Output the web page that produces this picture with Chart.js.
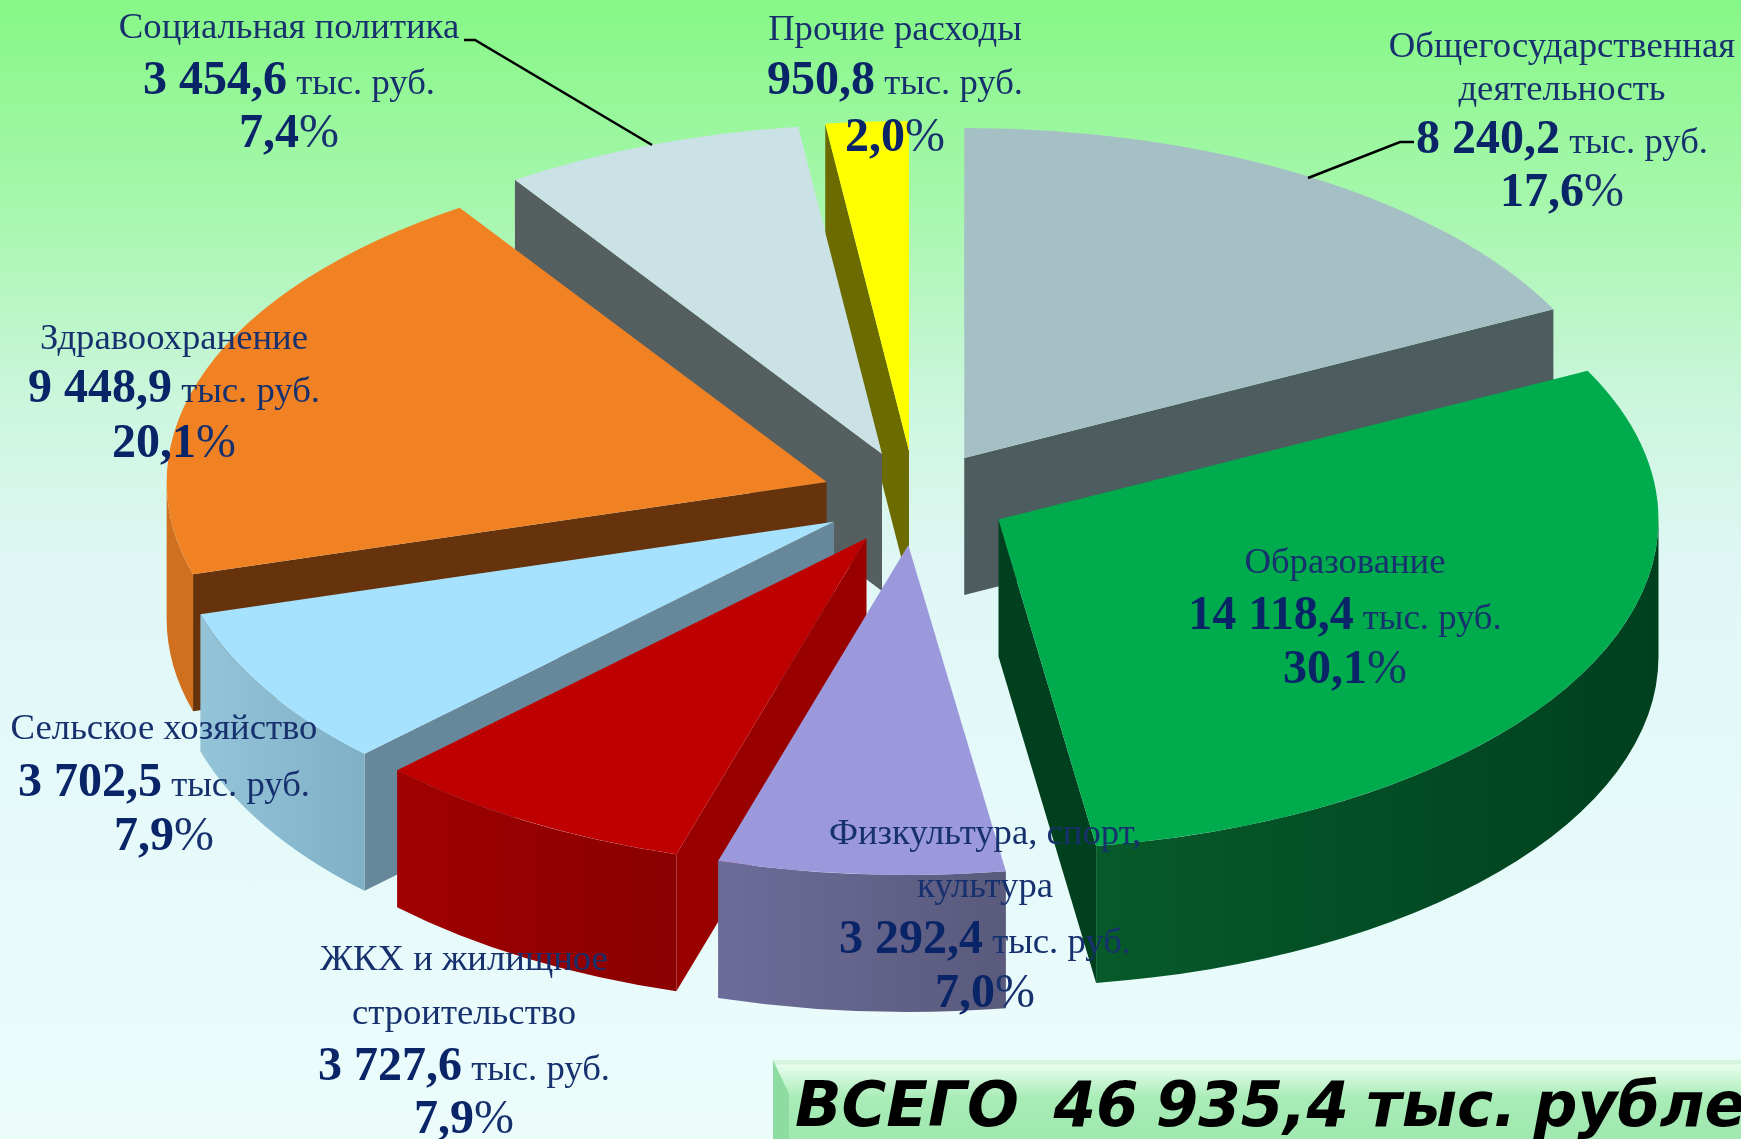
<!DOCTYPE html>
<html lang="ru">
<head>
<meta charset="utf-8">
<title>Расходы бюджета</title>
<script src="https://cdn.jsdelivr.net/npm/chart.js@4"></script>
<style>
    html, body { margin: 0; padding: 0; width: 1741px; height: 1139px; overflow: hidden; }
    body { position: relative; background: linear-gradient(180deg, #86f786 0%, #a6f7ac 18%, #cdf6df 36%, #e0f7f6 50%, #e6fafa 75%, #ebfcfb 100%); }
    #pie { position: absolute; left: 0; top: 0; }
    .line { position: absolute; transform: translate(-50%, -50%); white-space: pre; color: #17306e;
            font-family: "Liberation Serif", serif; font-size: 36.7px; line-height: 1; }
    .line b { font-size: 48px; color: #0a2468; }
    #total { position: absolute; left: 773px; top: 1060px; width: 990px; height: 90px; overflow: hidden;
             background: linear-gradient(180deg, #d6f5df 0, #d6f5df 4px, #e8fdee 5px, #a8ecb6 42%, #9de6ae 100%); }
    #total::before { content: ""; position: absolute; left: 0; top: 0; width: 16px; height: 100%; background: #8fdca2;
             clip-path: polygon(0 0, 100% 34px, 100% 100%, 0 100%); }
    #total span { position: absolute; left: 22px; top: 8px; white-space: pre; color: #000; word-spacing: -4px;
             font: italic bold 62px "DejaVu Sans", sans-serif; transform-origin: 0 0; transform: scaleX(0.985); }
</style>
</head>
<body>
<canvas id="pie" width="1741" height="1139"></canvas>
<div id="total"><span>ВСЕГО  46 935,4 тыс. рублей</span></div>
<script>
// Slices, clockwise from 12 o'clock
const categories = ['Общегосударственная\nдеятельность', 'Образование', 'Физкультура, спорт,\nкультура',
    'ЖКХ и жилищное\nстроительство', 'Сельское хозяйство', 'Здравоохранение', 'Социальная политика', 'Прочие расходы'];
const values = [8240.2, 14118.4, 3292.4, 3727.6, 3702.5, 9448.9, 3454.6, 950.8];
const shares = [17.6, 30.1, 7.0, 7.9, 7.9, 20.1, 7.4, 2.0];

// Colours: top face, radial wall, rim gradient
const topColors = ['#a5c0c4', '#00ab4e', '#9b99db', '#bf0000', '#a6e2fd', '#f08224', '#cae1e5', '#ffff00'];
const wallColors = ['#4d5c5e', '#00401f', '#5e5e86', '#990000', '#66889a', '#66330c', '#555f60', '#6b6b00'];
const rimColors = [['#4d5c5e', '#4d5c5e'], ['#00401f', '#075a2a'], ['#5a5a7c', '#6c6c9a'], ['#8a0000', '#a00000'],
    ['#7fb0c6', '#93c4d8'], ['#d0701f', '#d0701f'], ['#555f60', '#555f60'], ['#6b6b00', '#6b6b00']];

// Layout of the flattened pie
const CENTER_X = 915, CENTER_Y = 498, RADIUS = 660, SQUASH = 0.5, DEPTH = 137, EXPLODE = 94;
const PAINT_ORDER = [0, 7, 6, 5, 4, 3, 2, 1];

// Label anchors: centre x, then centre y of each text line
const labelPos = [
    [1562, [45, 88, 137, 190]],
    [1345, [561, 613, 667]],
    [985, [832, 885, 937, 991]],
    [464, [958, 1012, 1064, 1117]],
    [164, [727, 780, 834]],
    [174, [337, 386, 441]],
    [289, [26, 78, 131]],
    [895, [28, 78, 135]]
];
const leaders = [
    [[1308, 178], [1400, 142], [1414, 142]],
    [[652, 145], [475, 40], [464, 40]]
];

function slicePose(arc) {
    const mid = (arc.startAngle + arc.endAngle) / 2;
    return {
        x: CENTER_X + Math.cos(mid) * EXPLODE,
        y: CENTER_Y + Math.sin(mid) * EXPLODE * SQUASH
    };
}

function drawWall(ctx, pose, angle, color) {
    const ex = pose.x + Math.cos(angle) * RADIUS;
    const ey = pose.y + Math.sin(angle) * RADIUS * SQUASH;
    ctx.fillStyle = color;
    ctx.beginPath();
    ctx.moveTo(pose.x, pose.y);
    ctx.lineTo(ex, ey);
    ctx.lineTo(ex, ey + DEPTH);
    ctx.lineTo(pose.x, pose.y + DEPTH);
    ctx.closePath();
    ctx.fill();
}

function drawRim(ctx, pose, from, to, colors) {
    const x1 = pose.x + Math.cos(from) * RADIUS;
    const x2 = pose.x + Math.cos(to) * RADIUS;
    const grad = ctx.createLinearGradient(Math.min(x1, x2), 0, Math.max(x1, x2), 0);
    grad.addColorStop(0, x1 > x2 ? colors[1] : colors[0]);
    grad.addColorStop(1, x1 > x2 ? colors[0] : colors[1]);
    ctx.fillStyle = grad;
    ctx.beginPath();
    ctx.ellipse(pose.x, pose.y, RADIUS, RADIUS * SQUASH, 0, from, to);
    ctx.ellipse(pose.x, pose.y + DEPTH, RADIUS, RADIUS * SQUASH, 0, to, from, true);
    ctx.closePath();
    ctx.fill();
}

// Replaces the normal dataset draw: walls first, then the library's own arc, squashed
const pie3d = {
    id: 'pie3d',
    beforeDatasetDraw(chart, args) {
        const ctx = chart.ctx;
        const arcs = args.meta.data;
        PAINT_ORDER.forEach(i => {
            const arc = arcs[i];
            const pose = slicePose(arc);
            const a0 = arc.startAngle, a1 = arc.endAngle;
            if (-Math.cos(a0) > 0) drawWall(ctx, pose, a0, wallColors[i]);
            if (Math.cos(a1) > 0) drawWall(ctx, pose, a1, wallColors[i]);
            const from = Math.max(a0, 0), to = Math.min(a1, Math.PI);
            if (to > from) drawRim(ctx, pose, from, to, rimColors[i]);

            ctx.save();
            ctx.translate(pose.x, pose.y);
            ctx.scale(RADIUS / arc.outerRadius, SQUASH * RADIUS / arc.outerRadius);
            ctx.translate(-arc.x, -arc.y);
            arc.draw(ctx);
            ctx.restore();
        });
        return false;
    },
    afterDraw(chart) {
        const ctx = chart.ctx;
        ctx.save();
        ctx.strokeStyle = '#000';
        ctx.lineWidth = 2.5;
        leaders.forEach(pts => {
            ctx.beginPath();
            pts.forEach((p, i) => i ? ctx.lineTo(p[0], p[1]) : ctx.moveTo(p[0], p[1]));
            ctx.stroke();
        });
        ctx.restore();
    }
};

new Chart(document.getElementById('pie'), {
    type: 'pie',
    data: {
        labels: categories,
        datasets: [{ data: values, backgroundColor: topColors, borderWidth: 0 }]
    },
    options: {
        responsive: false,
        animation: false,
        events: [],
        plugins: { legend: { display: false }, tooltip: { enabled: false } }
    },
    plugins: [pie3d]
});

function formatValue(v) {
    const parts = v.toFixed(1).split('.');
    return parts[0].replace(/\B(?=(\d{3})+$)/g, ' ') + ',' + parts[1];
}

function addLine(x, y, html) {
    const el = document.createElement('div');
    el.className = 'line';
    el.style.left = x + 'px';
    el.style.top = y + 'px';
    el.innerHTML = html;
    document.body.appendChild(el);
}

categories.forEach((name, i) => {
    const [x, ys] = labelPos[i];
    const lines = name.split('\n');
    lines.push('<b>' + formatValue(values[i]) + '</b> тыс. руб.');
    lines.push('<b>' + shares[i].toFixed(1).replace('.', ',') + '</b><span style="font-size:48px">%</span>');
    lines.forEach((text, j) => addLine(x, ys[j], text));
});
</script>
</body>
</html>
